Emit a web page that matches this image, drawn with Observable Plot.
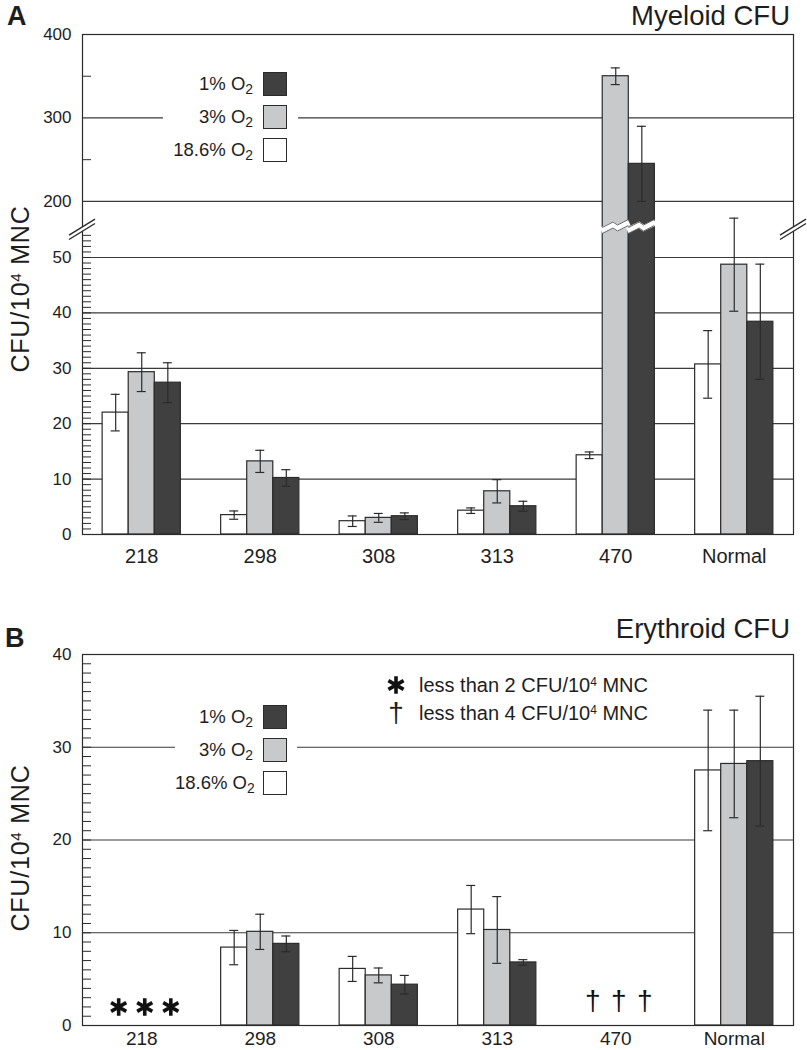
<!DOCTYPE html>
<html><head><meta charset="utf-8">
<script src="https://cdn.jsdelivr.net/npm/d3@7"></script>
<script src="https://cdn.jsdelivr.net/npm/@observablehq/plot@0.6"></script>
<style>
body{margin:0;background:#fff;}
#wrap{position:relative;width:807px;height:1050px;overflow:hidden;font-family:"Liberation Sans",Arial,sans-serif;color:#1e1e1e;}
.abs{position:absolute;white-space:nowrap;line-height:1;}
.letter{font-weight:bold;font-size:27px;}
.title{font-size:27.5px;text-align:right;}
.ylab{font-size:25px;letter-spacing:0.8px;transform:translate(-50%,-50%) rotate(-90deg);}
sup{font-size:0.6em;vertical-align:0.5em;line-height:0;}
sub{font-size:0.75em;vertical-align:-0.28em;line-height:0;}
.legend{background:#fff;}
.row{display:flex;align-items:center;height:33px;}
.lt{font-size:18.5px;text-align:right;white-space:nowrap;}
.sw{width:22px;height:22px;border:1.3px solid #2b2b2b;margin-left:10px;flex:none;}
.nrow{display:flex;align-items:center;height:28px;font-size:20px;}
.sym{width:20px;display:flex;justify-content:center;align-items:center;margin-right:13px;}
</style></head>
<body><div id="wrap"></div>
<script>
// ---------- data ----------
const categories = ["218", "298", "308", "313", "470", "Normal"];
const seriesNames = ["18.6% O2", "3% O2", "1% O2"];
const seriesFill = ["#ffffff", "#c8c9cb", "#404040"];

// Panel A: Myeloid CFU per 10^4 MNC (mean and error), by series
const myeloid_186 = [22.0, 3.5, 2.4, 4.3, 14.3, 30.7];
const myeloid_3   = [29.3, 13.2, 3.0, 7.8, 350, 48.7];
const myeloid_1   = [27.4, 10.2, 3.3, 5.1, 245, 38.4];
const myeloidErr_186 = [3.3, 0.75, 0.95, 0.5, 0.6, 6.1];
const myeloidErr_3   = [3.5, 2.0, 0.8, 2.1, 10, 8.4];
const myeloidErr_1   = [3.6, 1.5, 0.6, 0.9, 45, 10.4];

// Panel B: Erythroid CFU per 10^4 MNC
const erythroid_186 = [null, 8.4, 6.1, 12.5, null, 27.5];
const erythroid_3   = [null, 10.1, 5.4, 10.3, null, 28.2];
const erythroid_1   = [null, 8.8, 4.4, 6.8, null, 28.5];
const erythroidErr_186 = [null, 1.85, 1.35, 2.6, null, 6.5];
const erythroidErr_3   = [null, 1.9, 0.8, 3.6, null, 5.8];
const erythroidErr_1   = [null, 0.85, 1.0, 0.3, null, 7.0];
const erythroidBelowLimit = ["*", "", "", "", "†", ""];

// axis ticks
const yTicksA_lower = [0, 10, 20, 30, 40, 50];
const yTicksA_upper = [200, 300, 400];
const yMinorA_upper = [250, 350];
const yTicksB = [0, 10, 20, 30, 40];

// ---------- broken scale for panel A ----------
const LOWER_TOP = 55, UPPER_BOTTOM = 166, UPPER_TOP = 400, UPPER_FACTOR = 0.15064;
const virtTop = LOWER_TOP + (UPPER_TOP - UPPER_BOTTOM) * UPPER_FACTOR;
const toVirt = (v, upper) => upper ? LOWER_TOP + (v - UPPER_BOTTOM) * UPPER_FACTOR : v;

// ---------- layout / style ----------
const ink = "#2b2b2b", gridInk = "#3a3a3a";
const groupW = 0.66, barW = groupW / 3, pad = (1 - groupW) / 2, capHalf = 0.038;
const fontFamily = "'Liberation Sans', Arial, sans-serif";

function buildRows(means, errs, upperAware) {
  const out = [];
  means.forEach((arr, si) => arr.forEach((m, ci) => {
    if (m == null) return;
    const e = errs[si][ci];
    const upper = upperAware && m > LOWER_TOP;
    const x1 = ci + pad + si * barW;
    out.push({ci, si, series: seriesNames[si], x1, x2: x1 + barW, xc: x1 + barW / 2,
      v: toVirt(m, upper), lo: toVirt(m - e, upper), hi: toVirt(m + e, upper), upper});
  }));
  return out;
}

const rowsA = buildRows([myeloid_186, myeloid_3, myeloid_1], [myeloidErr_186, myeloidErr_3, myeloidErr_1], true);
const rowsB = buildRows([erythroid_186, erythroid_3, erythroid_1], [erythroidErr_186, erythroidErr_3, erythroidErr_1], false);

const belowRows = [];
erythroidBelowLimit.forEach((mk, ci) => {
  if (!mk) return;
  for (let si = 0; si < 3; si++) belowRows.push({mk, xc: ci + pad + si * barW + barW / 2});
});

function errorMarks(rows) {
  return [
    Plot.ruleX(rows, {x: "xc", y1: "lo", y2: "hi", stroke: ink, strokeWidth: 1.2}),
    Plot.ruleY(rows, {y: "hi", x1: d => d.xc - capHalf, x2: d => d.xc + capHalf, stroke: ink, strokeWidth: 1.2}),
    Plot.ruleY(rows, {y: "lo", x1: d => d.xc - capHalf, x2: d => d.xc + capHalf, stroke: ink, strokeWidth: 1.2})
  ];
}

// decorations for the broken axis (drawn from the plot's scales)
function breakDecor(cutRows) {
  return (index, scales, values, dims) => {
    const {x, y} = scales;
    const g = d3.create("svg:g");
    const yb = y(LOWER_TOP);
    const hx = 13, hy = 8, s = 2.2;
    for (const xe of [dims.marginLeft, dims.width - dims.marginRight]) {
      g.append("path")
        .attr("d", `M${xe - hx},${yb + hy - s}L${xe + hx},${yb - hy - s}L${xe + hx},${yb - hy + s}L${xe - hx},${yb + hy + s}Z`)
        .attr("fill", "#fff");
      for (const o of [-s, s]) {
        g.append("line").attr("x1", xe - hx).attr("y1", yb + hy + o).attr("x2", xe + hx).attr("y2", yb - hy + o)
          .attr("stroke", ink).attr("stroke-width", 1.4);
      }
    }
    const yc = y(LOWER_TOP + 0.5);
    for (const r of cutRows) {
      const X1 = x(r.x1) - 1, X2 = x(r.x2) + 1, w = X2 - X1;
      const pts = o => [[X1, yc + 4 + o], [X1 + 0.42 * w, yc - 1.5 + o], [X1 + 0.58 * w, yc + 1.5 + o], [X2, yc - 4 + o]];
      const line = d3.line();
      g.append("path").attr("d", line(pts(0))).attr("fill", "none").attr("stroke", "#fff").attr("stroke-width", 6);
      for (const o of [-3, 3]) {
        g.append("path").attr("d", line(pts(o).map(([a, b], i) => [i === 0 ? a + 1 : i === 3 ? a - 1 : a, b])))
          .attr("fill", "none").attr("stroke", "#666").attr("stroke-width", 1);
      }
    }
    return g.node();
  };
}

const labelA = new Map();
yTicksA_lower.forEach(v => labelA.set(toVirt(v, false), String(v)));
yTicksA_upper.forEach(v => labelA.set(toVirt(v, true), String(v)));
const majorA = [...labelA.keys()];
const minorA = d3.range(1, LOWER_TOP).concat(yMinorA_upper.map(v => toVirt(v, true)));
const gridA = majorA.filter(v => v > 0 && v < virtTop - 0.01);
const centers = categories.map((c, i) => i + 0.5);

const commonStyle = {fontFamily, fontSize: "17px", color: "#1e1e1e", overflow: "visible"};

const plotA = Plot.plot({
  width: 807, height: 570,
  marginLeft: 82, marginRight: 14, marginTop: 34, marginBottom: 36,
  x: {domain: [0, categories.length], axis: null},
  y: {domain: [0, virtTop], axis: null},
  color: {domain: seriesNames, range: seriesFill},
  style: commonStyle,
  marks: [
    Plot.ruleY(gridA, {stroke: gridInk, strokeWidth: 1.2}),
    Plot.rect(rowsA, {x1: "x1", x2: "x2", y1: 0, y2: "v", fill: "series", stroke: ink, strokeWidth: 1.2}),
    ...errorMarks(rowsA),
    Plot.frame({stroke: ink, strokeWidth: 1.2}),
    Plot.axisY(minorA, {tickSize: 9, dx: 9, fill: "none", stroke: ink, label: null}),
    breakDecor(rowsA.filter(d => d.upper)),
    Plot.axisY(majorA, {tickSize: 0, tickPadding: 11, tickFormat: d => labelA.get(d), fontSize: 17, label: null}),
    Plot.axisX(centers, {tickSize: 0, tickPadding: 14, tickFormat: d => categories[Math.round(d - 0.5)], fontSize: 20, label: null})
  ]
});

const plotB = Plot.plot({
  width: 807, height: 450,
  marginLeft: 82, marginRight: 14, marginTop: 54, marginBottom: 25,
  x: {domain: [0, categories.length], axis: null},
  y: {domain: [0, 40], axis: null},
  color: {domain: seriesNames, range: seriesFill},
  style: commonStyle,
  marks: [
    Plot.ruleY(yTicksB.filter(v => v > 0 && v < 40), {stroke: gridInk, strokeWidth: 1.2}),
    Plot.rect(rowsB, {x1: "x1", x2: "x2", y1: 0, y2: "v", fill: "series", stroke: ink, strokeWidth: 1.2}),
    ...errorMarks(rowsB),
    Plot.dot(belowRows.filter(d => d.mk === "*"), {x: "xc", y: 2.0, dx: 3, symbol: "asterisk", r: 8.3, stroke: "#111", strokeWidth: 3.6}),
    Plot.text(belowRows.filter(d => d.mk === "†"), {x: "xc", y: 2.65, dx: 3, text: "mk", fontSize: 28, fill: "#111"}),
    Plot.frame({stroke: ink, strokeWidth: 1.2}),
    Plot.axisY(d3.range(1, 40), {tickSize: 9, dx: 9, fill: "none", stroke: ink, label: null}),
    Plot.axisY(yTicksB, {tickSize: 0, tickPadding: 11, fontSize: 17, label: null}),
    Plot.axisX(centers, {tickSize: 0, tickPadding: 6, tickFormat: d => categories[Math.round(d - 0.5)], fontSize: 19, label: null})
  ]
});

// ---------- assemble ----------
const wrap = document.getElementById("wrap");
function place(el, left, top) { el.style.position = "absolute"; el.style.left = left + "px"; el.style.top = top + "px"; wrap.appendChild(el); return el; }
place(plotA, 0, 0);
place(plotB, 0, 600);

function html(cls, inner, css) {
  const d = document.createElement("div");
  d.className = "abs " + cls; d.innerHTML = inner;
  Object.assign(d.style, css);
  wrap.appendChild(d); return d;
}
const sub2 = s => s.replace(/O2$/, "O<sub>2</sub>");

html("letter", "A", {left: "7px", top: "2.5px"});
html("letter", "B", {left: "5px", top: "624.5px"});
html("title", "Myeloid CFU", {right: "17px", top: "2px"});
html("title", "Erythroid CFU", {right: "17px", top: "615.4px"});
html("ylab", "CFU/10<sup>4</sup> MNC", {left: "20px", top: "288.5px"});
html("ylab", "CFU/10<sup>4</sup> MNC", {left: "20px", top: "847.5px"});

function legend(left, top, width, textW) {
  const order = [2, 1, 0];
  const inner = order.map(si =>
    `<div class="row"><div class="lt" style="width:${textW}px">${sub2(seriesNames[si])}</div><div class="sw" style="background:${seriesFill[si]}"></div></div>`
  ).join("");
  html("legend", inner, {left: left + "px", top: top + "px", width: width + "px"});
}
legend(163, 67.5, 135, 90);
legend(175, 700.5, 122, 78);

const star = d3.symbol(d3.symbolAsterisk, Math.PI * 8.3 * 8.3)();
html("", `<div class="nrow"><div class="sym"><svg width="20" height="20" viewBox="-10 -10 20 20"><path d="${star}" stroke="#111" stroke-width="3.6" fill="none"/></svg></div><span>less than 2 CFU/10<sup>4</sup> MNC</span></div>` +
  `<div class="nrow"><div class="sym" style="font-size:28px">†</div><span>less than 4 CFU/10<sup>4</sup> MNC</span></div>`,
  {left: "386px", top: "671px"});
</script></body></html>
